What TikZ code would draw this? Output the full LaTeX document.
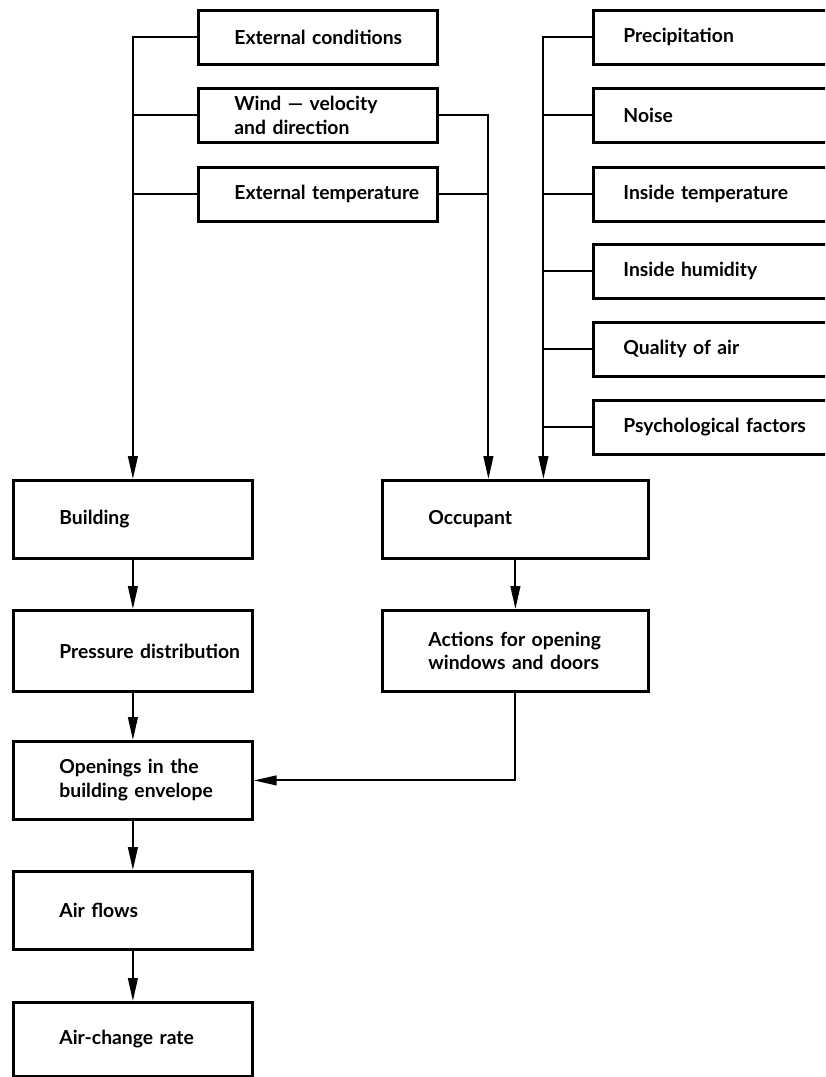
\documentclass[tikz,border=0pt]{standalone}
\usepackage{fontspec}
\setmainfont{Lato}
\usepackage{tikz}
\usetikzlibrary{arrows.meta,calc}
\newdimen\pxl \pxl=0.02cm
\tikzstyle{box}=[rectangle, draw=black, line width=1.6pt, inner xsep=4*\pxl, inner ysep=0pt, anchor=north west, align=left, font=\fontsize{11}{13.5}\selectfont\bfseries]
\tikzstyle{inbox}=[box, text width=231*\pxl, minimum height=54*\pxl, execute at begin node={\leftskip=32\pxl}]
\tikzstyle{outbox}=[box, text width=242*\pxl, minimum height=54*\pxl, execute at begin node={\leftskip=26\pxl}]
\tikzstyle{flowbox}=[box, text width=231*\pxl, minimum height=78*\pxl, execute at begin node={\leftskip=42\pxl}]
\tikzstyle{link}=[line width=1.1pt]
\tikzstyle{arrowlink}=[link, -{Triangle[length=13pt,width=5.5pt]}]

\begin{document}
\begin{tikzpicture}[x=0.02cm, y=-0.02cm]
	\useasboundingbox (0,0) rectangle (825,1077);
	\clip (0,0) rectangle (825,1077);

	\node[inbox] (extcond) at (197,9) {External conditions};
	\node[inbox] (wind) at (197,87) {Wind — velocity\\and direction};
	\node[inbox] (exttemp) at (197,166) {External temperature};

	\node[outbox] (precip) at (592,9) {Precipitation};
	\node[outbox] (noise) at (592,87) {Noise};
	\node[outbox] (intemp) at (592,166) {Inside temperature};
	\node[outbox] (inhum) at (592,243) {Inside humidity};
	\node[outbox] (airqual) at (592,321) {Quality of air};
	\node[outbox] (psych) at (592,399) {Psychological factors};

	\node[flowbox] (building) at (12,479) {Building};
	\node[flowbox, text width=258*\pxl] (occupant) at (381,479) {Occupant};
	\node[flowbox, minimum height=81*\pxl] (pressure) at (12,609) {Pressure distribution};
	\node[flowbox, text width=258*\pxl, minimum height=81*\pxl] (actions) at (381,609) {Actions for opening\\windows and doors};
	\node[flowbox] (openings) at (12,740) {Openings in the\\building envelope};
	\node[flowbox] (airflows) at (12,870) {Air flows};
	\node[flowbox, minimum height=74*\pxl] (airchange) at (12,1001) {Air-change rate};

	\coordinate (occin1) at ($(occupant.north)+(-27,0)$);
	\coordinate (occin2) at ($(occupant.north)+(28,0)$);

	\draw[arrowlink] (extcond.west) -| (building.north);
	\draw[link] (wind.west) -- (wind.west -| building.north);
	\draw[link] (exttemp.west) -- (exttemp.west -| building.north);

	\draw[arrowlink] (wind.east) -| (occin1);
	\draw[link] (exttemp.east) -- (exttemp.east -| occin1);

	\draw[arrowlink] (precip.west) -| (occin2);
	\foreach \n in {noise,intemp,inhum,airqual,psych}
		\draw[link] (\n.west) -- (\n.west -| occin2);

	\draw[arrowlink] (building) -- (pressure);
	\draw[arrowlink] (occupant) -- (actions);
	\draw[arrowlink] (pressure) -- (openings);
	\draw[arrowlink] (actions.south) |- (openings.east);
	\draw[arrowlink] (openings) -- (airflows);
	\draw[arrowlink] (airflows) -- (airchange);

\end{tikzpicture}
\end{document}
